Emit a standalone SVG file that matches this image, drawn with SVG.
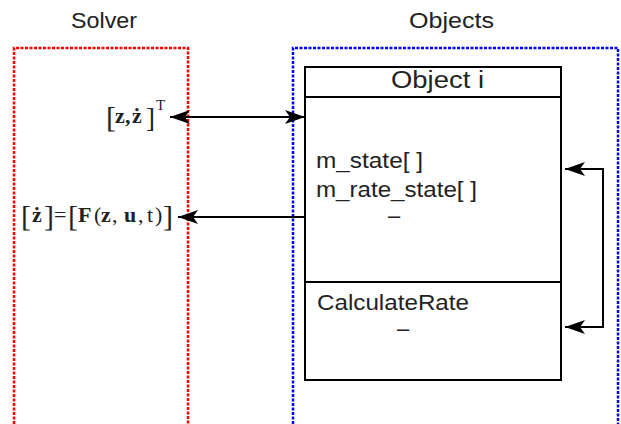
<svg xmlns="http://www.w3.org/2000/svg" width="621" height="424" viewBox="0 0 621 424">
<defs>
<marker id="ah2" viewBox="0 0 20 14" refX="20" refY="7" markerWidth="20" markerHeight="14" orient="auto-start-reverse" markerUnits="userSpaceOnUse">
<path d="M0,0 L20,7 L0,14 L5,7 Z" fill="#000"/>
</marker>
<style>
.lbl{font-family:"Liberation Sans","DejaVu Sans",sans-serif;fill:#222;font-size:22px;}
.m{font-family:"Liberation Serif","DejaVu Serif",serif;fill:#222;font-size:22px;}
.b{font-weight:bold;}
.br{font-size:30px;}
.box{fill:#fff;stroke:#000;stroke-width:2;}
.conn{fill:none;stroke:#000;stroke-width:2;}
</style>
</defs>
<rect width="621" height="424" fill="#fff"/>
<g id="solver">
<text class="lbl" x="71" y="28" textLength="66" lengthAdjust="spacingAndGlyphs">Solver</text>
<path d="M14,424 V48 H188 V424" fill="none" stroke="#f00" stroke-width="2.5" stroke-dasharray="3,1.5"/>
<text class="m"><tspan class="br" x="106" y="127" font-size="27">[</tspan><tspan class="b" x="115" y="123">z</tspan><tspan class="b" x="125" y="123">,</tspan><tspan class="b" x="132" y="123">ż</tspan><tspan x="146" y="127" font-size="27">]</tspan><tspan x="156" y="110" font-size="15">T</tspan></text>
<text class="m"><tspan class="br" x="21" y="226">[</tspan><tspan class="b" x="32" y="222">ż</tspan><tspan class="br" x="44" y="226">]</tspan><tspan x="54" y="222">=</tspan><tspan class="br" x="68" y="226">[</tspan><tspan class="b" x="78" y="222">F</tspan><tspan x="94" y="222">(</tspan><tspan class="b" x="101" y="222">z</tspan><tspan x="112" y="222">,</tspan><tspan class="b" x="124" y="222">u</tspan><tspan x="138" y="222">,</tspan><tspan x="147" y="222">t</tspan><tspan x="155" y="222">)</tspan><tspan class="br" x="163" y="226">]</tspan></text>
</g>
<g id="objects">
<text class="lbl" x="409" y="28" textLength="85" lengthAdjust="spacingAndGlyphs">Objects</text>
<path d="M293,424 V48 H618 V424" fill="none" stroke="#00f" stroke-width="2.5" stroke-dasharray="3,1.5"/>
</g>
<g id="object-i">
<rect class="box" x="305" y="67" width="256" height="313"/>
<line x1="305" y1="97" x2="561" y2="97" stroke="#000" stroke-width="2"/>
<line x1="305" y1="282" x2="561" y2="282" stroke="#000" stroke-width="2"/>
<text class="lbl" x="391" y="88" style="font-size:23px" textLength="93" lengthAdjust="spacingAndGlyphs">Object i</text>
<text class="lbl" x="316" y="168" textLength="107" lengthAdjust="spacingAndGlyphs">m_state[ ]</text>
<text class="lbl" x="316" y="197" textLength="161" lengthAdjust="spacingAndGlyphs">m_rate_state[ ]</text>
<text class="lbl" x="388" y="223">–</text>
<text class="lbl" x="317" y="310" textLength="152" lengthAdjust="spacingAndGlyphs">CalculateRate</text>
<text class="lbl" x="397" y="336">–</text>
</g>
<g id="connectors">
<line class="conn" x1="170" y1="117" x2="305" y2="117" marker-start="url(#ah2)" marker-end="url(#ah2)"/>
<line class="conn" x1="305" y1="217" x2="178" y2="217" marker-end="url(#ah2)"/>
<path class="conn" d="M565,169 H603 V327 H565" marker-start="url(#ah2)" marker-end="url(#ah2)"/>
</g>
</svg>
